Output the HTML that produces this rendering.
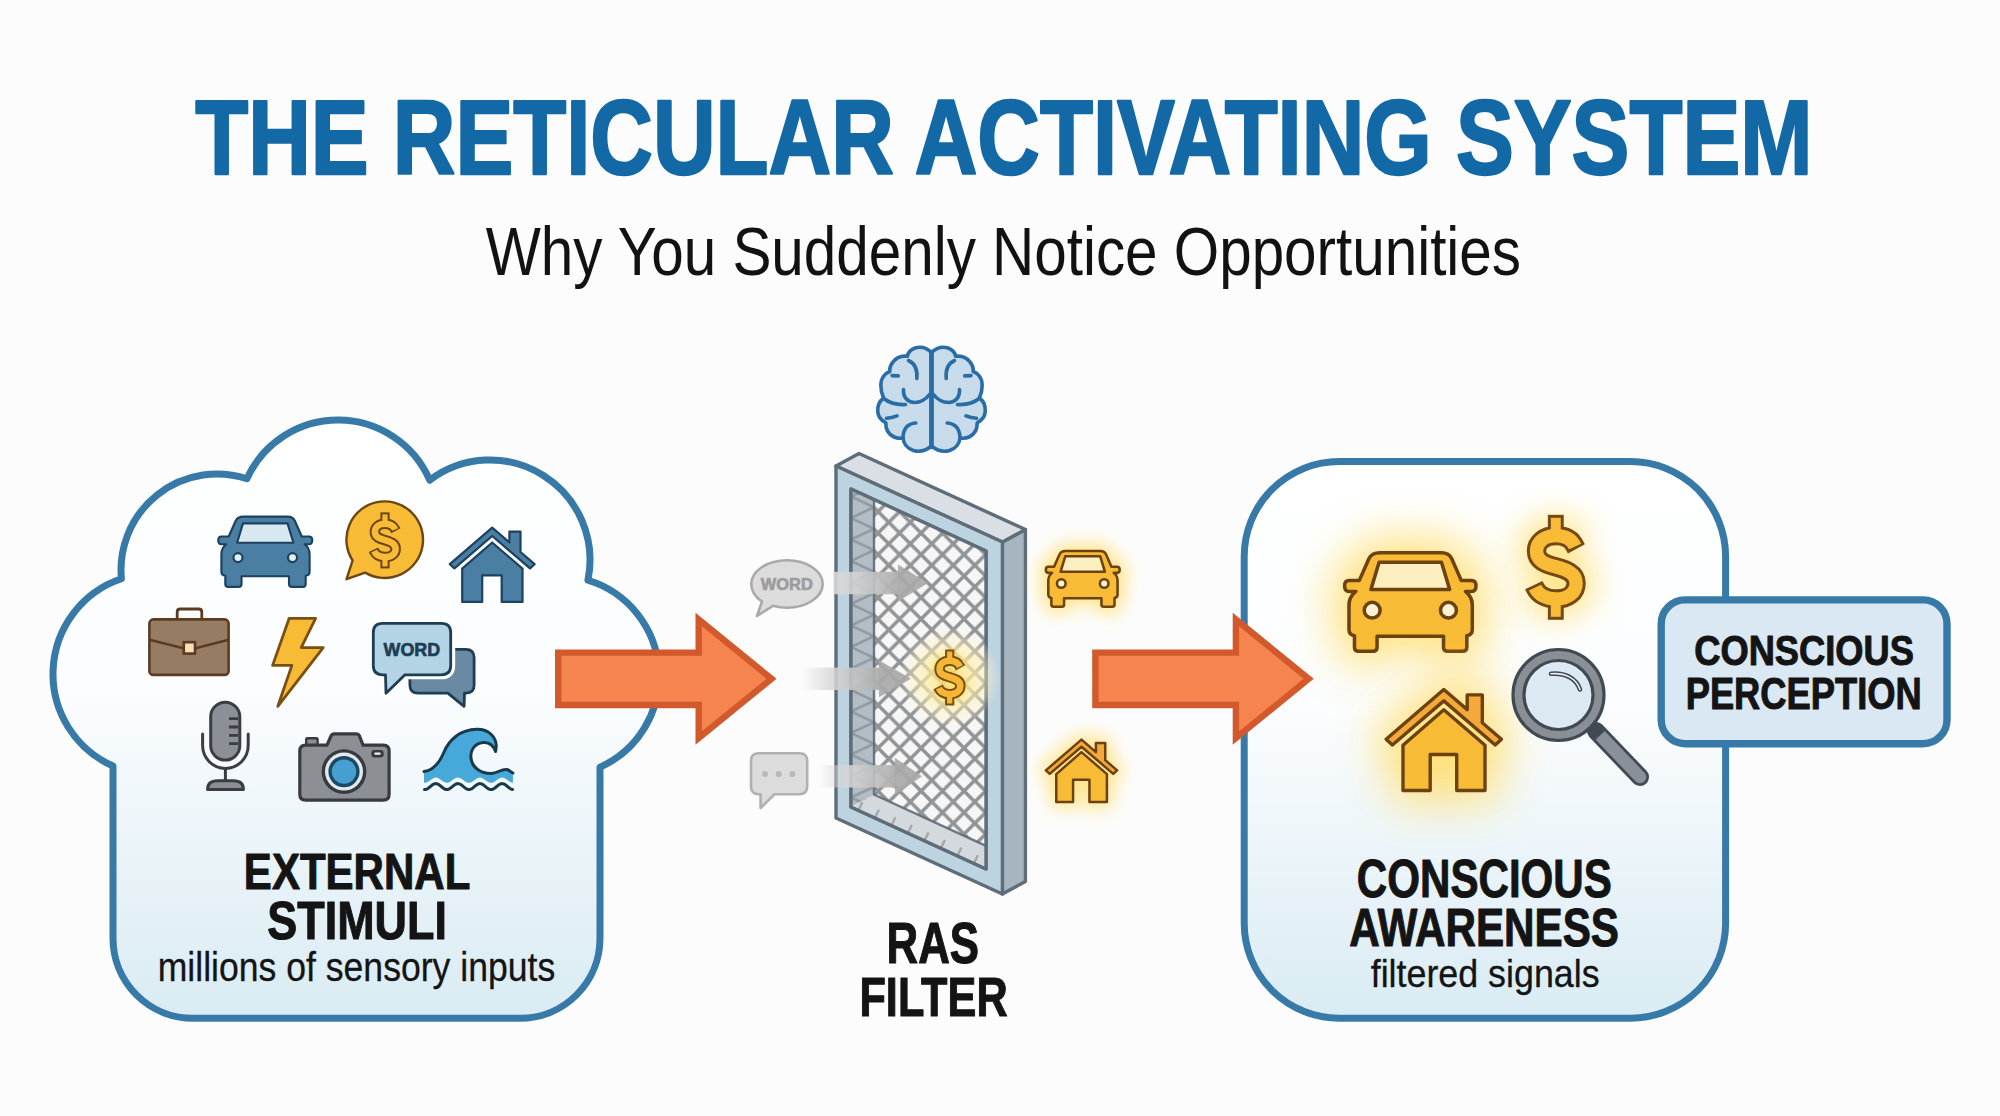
<!DOCTYPE html>
<html><head><meta charset="utf-8"><title>The Reticular Activating System</title>
<style>
html,body{margin:0;padding:0;background:#fcfcfc;}
body{width:2000px;height:1116px;overflow:hidden;font-family:"Liberation Sans",sans-serif;}
svg{display:block;}
</style></head><body>
<svg width="2000" height="1116" viewBox="0 0 2000 1116" font-family='Liberation Sans, sans-serif'>
<defs>
<linearGradient id="cloudGrad" x1="0" y1="420" x2="0" y2="1020" gradientUnits="userSpaceOnUse">
  <stop offset="0" stop-color="#ffffff"/>
  <stop offset="0.45" stop-color="#fbfdfe"/>
  <stop offset="1" stop-color="#d9ebf3"/>
</linearGradient>
<linearGradient id="boxGrad" x1="0" y1="460" x2="0" y2="1020" gradientUnits="userSpaceOnUse">
  <stop offset="0" stop-color="#ffffff"/>
  <stop offset="0.45" stop-color="#fbfdfe"/>
  <stop offset="1" stop-color="#d9ebf3"/>
</linearGradient>
<linearGradient id="ghostGrad" x1="0" y1="0" x2="1" y2="0">
  <stop offset="0" stop-color="#d6d6d6" stop-opacity="0"/>
  <stop offset="0.4" stop-color="#d6d6d6" stop-opacity="0.85"/>
  <stop offset="1" stop-color="#adadad" stop-opacity="0.95"/>
</linearGradient>
<linearGradient id="ghostGrad2" x1="0" y1="0" x2="1" y2="0">
  <stop offset="0" stop-color="#dadada" stop-opacity="0.88"/>
  <stop offset="0.35" stop-color="#d2d2d2" stop-opacity="0.88"/>
  <stop offset="1" stop-color="#adadad" stop-opacity="0.95"/>
</linearGradient>
<radialGradient id="dolGlow" cx="0.5" cy="0.5" r="0.5">
  <stop offset="0" stop-color="#ffe680" stop-opacity="0.9"/>
  <stop offset="0.5" stop-color="#fff0a8" stop-opacity="0.75"/>
  <stop offset="0.8" stop-color="#fff4c0" stop-opacity="0.4"/>
  <stop offset="1" stop-color="#fff6d0" stop-opacity="0"/>
</radialGradient>
<filter id="glow" x="-150%" y="-150%" width="400%" height="400%">
  <feGaussianBlur stdDeviation="11"/>
</filter>
<filter id="glowL" x="-150%" y="-150%" width="400%" height="400%">
  <feGaussianBlur stdDeviation="16"/>
</filter>
<filter id="glowS" x="-150%" y="-150%" width="400%" height="400%">
  <feGaussianBlur stdDeviation="8"/>
</filter>
<pattern id="mesh" patternUnits="userSpaceOnUse" width="21.5" height="21.5" x="7.3" y="6.3">
  <rect width="21.5" height="21.5" fill="#f6f6f7"/>
  <path d="M-2,-2 L23.5,23.5 M23.5,-2 L-2,23.5" stroke="#929395" stroke-width="3.5"/>
</pattern>
<pattern id="meshWall" patternUnits="userSpaceOnUse" width="23" height="21.5" x="851" y="2">
  <rect width="23" height="21.5" fill="#b2bdc5"/>
  <path d="M0,0 L23,10.75 L0,21.5" stroke="#929aa0" stroke-width="2.6" fill="none"/>
</pattern>
</defs>
<rect width="2000" height="1116" fill="#fcfcfc"/>
<path d="M 113 765.98 A 100.5 100.5 0 0 1 121.4 578.76 A 96 96 0 0 1 246.89 478.77 A 100 100 0 0 1 429.74 480.2 A 100 100 0 0 1 587.92 580.27 A 100 100 0 0 1 600 767.21 L 600 938.3 A 80 80 0 0 1 520 1018.3 L 193 1018.3 A 80 80 0 0 1 113 938.3 Z" fill="url(#cloudGrad)" stroke="#377aa8" stroke-width="7" stroke-linejoin="round"/>
<g transform="translate(265.25 551.75) scale(0.98 0.97) translate(-265.25 -551.75)" stroke="#1d4260" stroke-width="2.2" stroke-linejoin="round">
<path d="M243,515.5 L288,515.5 Q293.5,515.5 295.5,520 L302.5,536 L310,536 Q313.2,536 313.2,540 Q313.2,544 310,544 L305.5,544 Q310.5,548 310.5,554 L310.5,572 Q310.5,576 306.5,576.5 L306.5,585 Q306.5,588 303.5,588 L292.5,588 Q289.5,588 289.5,585 L289.5,577 L241,577 L241,585 Q241,588 238,588 L227.5,588 Q224.5,588 224.5,585 L224.5,576.5 Q220.5,576 220.5,572 L220.5,554 Q220.5,548 225.5,544 L220.5,544 Q217.3,544 217.3,540 Q217.3,536 220.5,536 L228,536 L235,520 Q237,515.5 243,515.5 Z" fill="#4a7ea3"/>
<path d="M242.5,522.5 L288,522.5 L294,542.5 L236.5,542.5 Z" fill="#d7e8f1"/>
<circle cx="237.4" cy="557.8" r="4.6" fill="#e4eef4"/>
<circle cx="293.1" cy="557.8" r="4.6" fill="#e4eef4"/>
</g>
<path d="M352.6,560.5 A38.3,38.3 0 1 1 365.2,572.6 L346.5,579.2 Z" fill="#f8bb35" stroke="#6e4612" stroke-width="2.4" stroke-linejoin="round"/>
<g transform="translate(385 540.4) scale(0.52)">
<rect x="-8.85" y="-53.85" width="17.69" height="19.85" fill="#6e4612"/>
<rect x="-8.85" y="34" width="17.69" height="19.85" fill="#6e4612"/>
<path d="M20.8,-18.6 L19.5,-21 C16,-29 8.5,-32 0,-32 C-11.5,-32 -19.5,-25.5 -19.5,-16.5 C-19.5,-6 -10,-3.2 0,-0.5 C10,2.2 20.5,5.5 20.5,16 C20.5,26 12,32 0,32 C-9.5,32 -17.5,28 -21,20.5 L-22.2,18" fill="none" stroke="#6e4612" stroke-width="20.19"/>
<rect x="-5" y="-50" width="10" height="16" fill="#f8bb35"/>
<rect x="-5" y="34" width="10" height="16" fill="#f8bb35"/>
<path d="M19.5,-21 C16,-29 8.5,-32 0,-32 C-11.5,-32 -19.5,-25.5 -19.5,-16.5 C-19.5,-6 -10,-3.2 0,-0.5 C10,2.2 20.5,5.5 20.5,16 C20.5,26 12,32 0,32 C-9.5,32 -17.5,28 -21,20.5" fill="none" stroke="#f8bb35" stroke-width="12.5"/>
</g>
<g transform="translate(492.35 564.75) scale(1) translate(-492.35 -564.75)" stroke="#1d4260" stroke-width="2.2" stroke-linejoin="round">
<path d="M492.2,527.6 L509.4,542.4 L509.4,531.6 L520.5,531.6 L520.5,552 L534.6,564.2 L530,568.4 L492.2,536 L454.4,568.4 L449.8,564.2 Z" fill="#4a7ea3"/>
<path d="M492.2,542.5 L522.5,568.6 L522.5,601.9 L501.7,601.9 L501.7,575.4 L482.2,575.4 L482.2,601.9 L462.2,601.9 L462.2,568.6 Z" fill="#4a7ea3"/>
</g>
<path d="M177.2,618.5 L177.2,612 Q177.2,609 180.2,609 L198.8,609 Q201.8,609 201.8,612 L201.8,618.5" fill="#fdfcfa" stroke="#5b3b22" stroke-width="2.8"/>
<rect x="149.4" y="619.4" width="79.2" height="55.5" rx="4" fill="#977c64" stroke="#5b3b22" stroke-width="2.6"/>
<path d="M149.4,639.8 L183.5,648.3 M195.6,648.3 L228.6,639.8" stroke="#5b3b22" stroke-width="2.6" fill="none"/>
<rect x="183.8" y="642.2" width="11.2" height="11.4" fill="#f6e0b8" stroke="#5b3b22" stroke-width="2.6"/>
<path d="M289.2,618.3 L315.6,618.3 L301.2,647.6 L323.2,647.6 L277.8,706.3 L291.9,665.4 L272.6,665.4 Z" fill="#f8bb35" stroke="#7a4f16" stroke-width="2.8" stroke-linejoin="round"/>
<path d="M418,649.3 L465.8,649.3 Q474.1,649.3 474.1,657.6 L474.1,685.1 Q474.1,693.1 466.1,693.1 L464.5,693.1 L464.1,706.3 L447.8,693.1 L418,693.1 Q409.9,693.1 409.9,685 L409.9,657.5 Q409.9,649.3 418,649.3 Z" fill="#6a89a3" stroke="#1e3e55" stroke-width="2.8" stroke-linejoin="round"/>
<path d="M382.5,623.3 L441.5,623.3 Q450.7,623.3 450.7,632.5 L450.7,665.6 Q450.7,674.8 441.5,674.8 L405,674.8 L386,693.2 L385.5,674.8 L382.5,674.8 Q373.3,674.8 373.3,665.6 L373.3,632.5 Q373.3,623.3 382.5,623.3 Z" fill="none" stroke="#ffffff" stroke-width="9" stroke-linejoin="round"/>
<path d="M382.5,623.3 L441.5,623.3 Q450.7,623.3 450.7,632.5 L450.7,665.6 Q450.7,674.8 441.5,674.8 L405,674.8 L386,693.2 L385.5,674.8 L382.5,674.8 Q373.3,674.8 373.3,665.6 L373.3,632.5 Q373.3,623.3 382.5,623.3 Z" fill="#b3d4e4" stroke="#1e3e55" stroke-width="2.8" stroke-linejoin="round"/>
<text x="411.8" y="656.2" font-size="19" font-weight="bold" fill="#1e3e55" text-anchor="middle" textLength="56.5" lengthAdjust="spacingAndGlyphs" stroke="#1e3e55" stroke-width="0.7" stroke-linejoin="round" >WORD</text>
<rect x="210.7" y="702.3" width="29.1" height="57.8" rx="14.55" fill="#8b9097" stroke="#3a3d42" stroke-width="3"/>
<path d="M229,718.6 L238,718.6 M229,727 L238,727 M229,735.4 L238,735.4 M229,743.7 L238,743.7" stroke="#3a3d42" stroke-width="2.8"/>
<path d="M202.6,733.9 L202.6,745.6 A22.8,22.8 0 0 0 248.2,745.6 L248.2,733.9" fill="none" stroke="#3a3d42" stroke-width="3" stroke-linecap="round"/>
<path d="M225.4,768.4 L225.4,780.5" stroke="#3a3d42" stroke-width="3"/>
<path d="M207.6,789.4 Q207.6,780.8 217.5,780.8 L233.5,780.8 Q243.4,780.8 243.4,789.4 Z" fill="#8b9097" stroke="#3a3d42" stroke-width="3" stroke-linejoin="round"/>
<rect x="306.2" y="738.2" width="11.4" height="7.5" rx="1.2" fill="#8c8f94" stroke="#373b40" stroke-width="2.4"/>
<path d="M299.8,751 Q299.8,745.1 305.7,745.1 L327,745.1 L331,736 Q332,733.8 334.5,733.8 L356,733.8 Q358.5,733.8 359.5,736 L363,745.1 L383.2,745.1 Q389.1,745.1 389.1,751 L389.1,794.3 Q389.1,800.2 383.2,800.2 L305.7,800.2 Q299.8,800.2 299.8,794.3 Z" fill="#8c8f94" stroke="#373b40" stroke-width="3.2" stroke-linejoin="round"/>
<circle cx="344" cy="771.6" r="22.4" fill="#373b40"/>
<circle cx="344" cy="771.6" r="19" fill="#e1eaf0"/>
<circle cx="344" cy="771.6" r="15.6" fill="#1c4862"/>
<circle cx="344" cy="771.6" r="12.2" fill="#479fd1"/>
<rect x="371.3" y="750" width="12.4" height="7.4" rx="3.2" fill="#373b40"/>
<rect x="374.3" y="752.6" width="6.4" height="2.2" rx="1" fill="#eef1f3"/>
<path d="M424,771.5 C433,770.5 439,764 444,752 C449,740 460,729.5 477,729.3 C489,729.2 496,737 496.3,746 L495.6,751.5 C493,744.5 488,742 483,742.5 C474,743.5 470,751 471,758 C472,768 481,773.5 491,773.5 C498,773.5 501,768.5 507,769.5 C509.5,770.5 511,772 512.9,773 L512.9,780 L512.9,782.79 L511.42,782.49 L509.94,781.79 L508.45,780.81 L506.97,779.72 L505.49,778.72 L504.01,777.97 L502.53,777.62 L501.05,777.72 L499.56,778.25 L498.08,779.12 L496.6,780.18 L495.12,781.25 L493.64,782.13 L492.16,782.67 L490.67,782.79 L489.19,782.45 L487.71,781.71 L486.23,780.72 L484.75,779.63 L483.27,778.64 L481.78,777.93 L480.3,777.61 L478.82,777.74 L477.34,778.31 L475.86,779.2 L474.38,780.27 L472.89,781.33 L471.41,782.19 L469.93,782.7 L468.45,782.77 L466.97,782.4 L465.49,781.64 L464,780.63 L462.52,779.54 L461.04,778.57 L459.56,777.88 L458.08,777.6 L456.6,777.78 L455.12,778.37 L453.63,779.29 L452.15,780.36 L450.67,781.41 L449.19,782.25 L447.71,782.72 L446.22,782.76 L444.74,782.35 L443.26,781.56 L441.78,780.54 L440.3,779.45 L438.82,778.5 L437.33,777.84 L435.85,777.6 L434.37,777.81 L432.89,778.44 L431.41,779.38 L429.93,780.46 L428.44,781.49 L426.96,782.3 L425.48,782.74 L424,782.74 Z" fill="#46a9d9"/>
<path d="M424,771.5 C433,770.5 439,764 444,752 C449,740 460,729.5 477,729.3 C489,729.2 496,737 496.3,746 L495.6,751.5 C493,744.5 488,742 483,742.5 C474,743.5 470,751 471,758 C472,768 481,773.5 491,773.5 C498,773.5 501,768.5 507,769.5 C509.5,770.5 511,772 512.9,773" fill="none" stroke="#1a3a4c" stroke-width="3" stroke-linejoin="round" stroke-linecap="round"/>
<path d="M424.5,789.59 L425.97,789.42 L427.43,788.77 L428.9,787.74 L430.37,786.52 L431.83,785.31 L433.3,784.33 L434.77,783.73 L436.23,783.62 L437.7,784.03 L439.17,784.87 L440.63,786.01 L442.1,787.26 L443.57,788.39 L445.03,789.21 L446.5,789.59 L447.97,789.45 L449.43,788.83 L450.9,787.82 L452.37,786.61 L453.83,785.39 L455.3,784.38 L456.77,783.75 L458.23,783.61 L459.7,783.98 L461.17,784.8 L462.63,785.93 L464.1,787.17 L465.57,788.32 L467.03,789.17 L468.5,789.58 L469.97,789.48 L471.43,788.88 L472.9,787.9 L474.37,786.69 L475.83,785.47 L477.3,784.44 L478.77,783.78 L480.23,783.61 L481.7,783.94 L483.17,784.74 L484.63,785.85 L486.1,787.09 L487.57,788.25 L489.03,789.12 L490.5,789.56 L491.97,789.5 L493.43,788.94 L494.9,787.98 L496.37,786.78 L497.83,785.55 L499.3,784.5 L500.77,783.81 L502.23,783.6 L503.7,783.91 L505.17,784.67 L506.63,785.77 L508.1,787 L509.57,788.17 L511.03,789.07 L512.5,789.55" fill="none" stroke="#1a3a4c" stroke-width="3" stroke-linecap="round" stroke-linejoin="round"/>
<rect x="1244.2" y="461.5" width="481.4" height="556.7" rx="95" fill="url(#boxGrad)" stroke="#377aa8" stroke-width="7"/>
<path d="M558.2,652.6 L698.7,652.6 L698.7,619.5 L771.5,678.8 L698.7,738 L698.7,705 L558.2,705 Z" fill="#f5844f" stroke="#d2592b" stroke-width="6.4" stroke-linejoin="miter"/>
<path d="M1095.4,652.6 L1235.9,652.6 L1235.9,619.5 L1308.7,678.8 L1235.9,738 L1235.9,705 L1095.4,705 Z" fill="#f5844f" stroke="#d2592b" stroke-width="6.4" stroke-linejoin="miter"/>
<g stroke="#2a6da6" stroke-width="3.6" stroke-linecap="round" stroke-linejoin="round">
<g transform="">
<path d="M931.5,352.5 C926,347 920,346.5 915,348 C911,349.5 908,352.5 907.3,356.3 C901,355.5 896,358 893,362 C890.5,365 889.5,368.5 889.8,371.5 C884,373.5 881,379 880.8,384.5 C880.7,390 882,394.5 883.6,398 C879,401.5 877.3,407 877.8,412 C878.3,417 881.5,420.5 885.8,422.8 C885.6,429 888.5,434.5 894,437 C897,438.4 900.5,438.5 903,437.8 C903.5,443.5 907.5,448.5 913.5,450.5 C919.5,452.3 926,450.5 931.5,446 Z" fill="#c7dbea"/>
<path d="M916.8,378.5 C917.5,371 916,364 908.5,360.5 M892,375.6 L898.3,375.9 M903.5,389.5 C903,397.5 908,402.5 914.5,402.5 C920.5,402.5 926,399 929.5,394.5 M883.8,398.5 C890,403.5 897,405 905.5,404.5 M886.5,418.3 C890.5,418 894,417 897,415.8 M915.8,423 C909,423.5 903.5,427.5 903,437.5" fill="none"/>
</g>
<g transform="translate(1863 0) scale(-1 1)">
<path d="M931.5,352.5 C926,347 920,346.5 915,348 C911,349.5 908,352.5 907.3,356.3 C901,355.5 896,358 893,362 C890.5,365 889.5,368.5 889.8,371.5 C884,373.5 881,379 880.8,384.5 C880.7,390 882,394.5 883.6,398 C879,401.5 877.3,407 877.8,412 C878.3,417 881.5,420.5 885.8,422.8 C885.6,429 888.5,434.5 894,437 C897,438.4 900.5,438.5 903,437.8 C903.5,443.5 907.5,448.5 913.5,450.5 C919.5,452.3 926,450.5 931.5,446 Z" fill="#c7dbea"/>
<path d="M916.8,378.5 C917.5,371 916,364 908.5,360.5 M892,375.6 L898.3,375.9 M903.5,389.5 C903,397.5 908,402.5 914.5,402.5 C920.5,402.5 926,399 929.5,394.5 M883.8,398.5 C890,403.5 897,405 905.5,404.5 M886.5,418.3 C890.5,418 894,417 897,415.8 M915.8,423 C909,423.5 903.5,427.5 903,437.5" fill="none"/>
</g>
<path d="M931.5,352 L931.5,447" fill="none" stroke-width="4.6"/>
</g>
<path d="M1002.4,542 L1025.4,529.5 L1025.4,881.5 L1002.4,894 Z" fill="#a6b5bf" stroke="#5e6d78" stroke-width="3.4" stroke-linejoin="round"/>
<path d="M836,466 L859,453.5 L1025.4,529.5 L1002.4,542 Z" fill="#d9dfe4" stroke="#5e6d78" stroke-width="3.4" stroke-linejoin="round"/>
<path d="M836,466 L1002.4,542 L1002.4,894 L836,818 Z M851,489 L986,551 L986,869 L851,807 Z" fill="#bed3e0" fill-rule="evenodd" stroke="#5e6d78" stroke-width="3.4" stroke-linejoin="round"/>
<clipPath id="hole"><path d="M851,489 L986,551 L986,869 L851,807 Z"/></clipPath>
<g clip-path="url(#hole)">
<rect x="851" y="470" width="140" height="410" fill="url(#mesh)"/>
<path d="M851,480 L874,470 L874,794.5 L851,807 Z" fill="url(#meshWall)"/>
<path d="M851,807 L874,794.5 L1009,856.5 L986,869 Z" fill="#d4d9dd"/>
<path d="M874,470 L874,794.5 L1009,856.5" fill="none" stroke="#5e6d78" stroke-width="2.4" opacity="0.9"/>
<path d="M862,803.05 l-3,6 M878.5,810.62 l-3,6 M895,818.2 l-3,6 M911.5,825.77 l-3,6 M928,833.34 l-3,6 M944.5,840.92 l-3,6 M961,848.49 l-3,6 M977.5,856.06 l-3,6" stroke="#a3a7ab" stroke-width="2.4" stroke-linecap="round"/>
</g>
<path d="M851,489 L986,551 L986,869 L851,807 Z" fill="none" stroke="#5e6d78" stroke-width="3.4" stroke-linejoin="round"/>
<circle cx="949.7" cy="677.5" r="50" fill="url(#dolGlow)" opacity="0.9"/>
<g transform="translate(949.7 677.5) scale(0.52)" filter="url(#glowS)" opacity="0.5">
<rect x="-8" y="-50" width="16" height="100" fill="#ffd54a"/>
<path d="M19.5,-21 C16,-29 8.5,-32 0,-32 C-11.5,-32 -19.5,-25.5 -19.5,-16.5 C-19.5,-6 -10,-3.2 0,-0.5 C10,2.2 20.5,5.5 20.5,16 C20.5,26 12,32 0,32 C-9.5,32 -17.5,28 -21,20.5" fill="none" stroke="#ffd54a" stroke-width="25.04"/>
</g>
<g transform="translate(949.7 677.5) scale(0.52)">
<rect x="-8.85" y="-53.85" width="17.69" height="19.85" fill="#7a4f16"/>
<rect x="-8.85" y="34" width="17.69" height="19.85" fill="#7a4f16"/>
<path d="M20.8,-18.6 L19.5,-21 C16,-29 8.5,-32 0,-32 C-11.5,-32 -19.5,-25.5 -19.5,-16.5 C-19.5,-6 -10,-3.2 0,-0.5 C10,2.2 20.5,5.5 20.5,16 C20.5,26 12,32 0,32 C-9.5,32 -17.5,28 -21,20.5 L-22.2,18" fill="none" stroke="#7a4f16" stroke-width="20.19"/>
<rect x="-5" y="-50" width="10" height="16" fill="#f5b733"/>
<rect x="-5" y="34" width="10" height="16" fill="#f5b733"/>
<path d="M19.5,-21 C16,-29 8.5,-32 0,-32 C-11.5,-32 -19.5,-25.5 -19.5,-16.5 C-19.5,-6 -10,-3.2 0,-0.5 C10,2.2 20.5,5.5 20.5,16 C20.5,26 12,32 0,32 C-9.5,32 -17.5,28 -21,20.5" fill="none" stroke="#f5b733" stroke-width="12.5"/>
</g>
<path d="M787,560.3 C806.7,560.3 822.7,570.9 822.7,584 C822.7,597.1 806.7,607.7 787,607.7 C782,607.7 777.3,607 773,605.8 L757,616 L762,601.5 C755.5,597.2 751.3,590.9 751.3,584 C751.3,570.9 767.3,560.3 787,560.3 Z" fill="#dcdcdc" stroke="#a9a9a9" stroke-width="2.6" stroke-linejoin="round"/>
<text x="786.8" y="590.4" font-size="17.3" font-weight="bold" fill="#9d9d9d" text-anchor="middle" textLength="52" lengthAdjust="spacingAndGlyphs" stroke="#9d9d9d" stroke-width="0.7" stroke-linejoin="round" >WORD</text>
<path d="M758.7,753.3 L799.5,753.3 Q807.2,753.3 807.2,761 L807.2,786.6 Q807.2,794.3 799.5,794.3 L774.5,794.3 L760.6,808 L760.6,794.3 L758.7,794.3 Q751,794.3 751,786.6 L751,761 Q751,753.3 758.7,753.3 Z" fill="#dcdcdc" stroke="#b1b1b1" stroke-width="2.6" stroke-linejoin="round"/>
<circle cx="765" cy="773.9" r="3" fill="#b9b9b9"/>
<circle cx="778.7" cy="773.9" r="3" fill="#b9b9b9"/>
<circle cx="792.4" cy="773.9" r="3" fill="#b9b9b9"/>
<rect x="833.5" y="571.8" width="65" height="22.4" fill="url(#ghostGrad2)"/>
<path d="M898,564.5 L928,583 L898,601.5 Z" fill="#a8a8a8" opacity="0.92"/>
<rect x="801" y="667.6" width="78.5" height="22.4" fill="url(#ghostGrad)"/>
<path d="M879,660.3 L911,678.8 L879,697.3 Z" fill="#a8a8a8" opacity="0.92"/>
<rect x="818" y="765.1" width="77.5" height="22.4" fill="url(#ghostGrad)"/>
<path d="M895,757.8 L922,776.3 L895,794.8 Z" fill="#a8a8a8" opacity="0.92"/>
<g transform="translate(1082.75 578.85) scale(0.79) translate(-265.25 -551.75)" filter="url(#glow)" opacity="0.8">
<path d="M243,515.5 L288,515.5 Q293.5,515.5 295.5,520 L302.5,536 L310,536 Q313.2,536 313.2,540 Q313.2,544 310,544 L305.5,544 Q310.5,548 310.5,554 L310.5,572 Q310.5,576 306.5,576.5 L306.5,585 Q306.5,588 303.5,588 L292.5,588 Q289.5,588 289.5,585 L289.5,577 L241,577 L241,585 Q241,588 238,588 L227.5,588 Q224.5,588 224.5,585 L224.5,576.5 Q220.5,576 220.5,572 L220.5,554 Q220.5,548 225.5,544 L220.5,544 Q217.3,544 217.3,540 Q217.3,536 220.5,536 L228,536 L235,520 Q237,515.5 243,515.5 Z" fill="#ffdf70" stroke="#ffdf70" stroke-width="15.25" stroke-linejoin="round"/>
</g>
<g transform="translate(1082.75 578.85) scale(0.77 0.77) translate(-265.25 -551.75)" stroke="#6b4210" stroke-width="3.3" stroke-linejoin="round">
<path d="M243,515.5 L288,515.5 Q293.5,515.5 295.5,520 L302.5,536 L310,536 Q313.2,536 313.2,540 Q313.2,544 310,544 L305.5,544 Q310.5,548 310.5,554 L310.5,572 Q310.5,576 306.5,576.5 L306.5,585 Q306.5,588 303.5,588 L292.5,588 Q289.5,588 289.5,585 L289.5,577 L241,577 L241,585 Q241,588 238,588 L227.5,588 Q224.5,588 224.5,585 L224.5,576.5 Q220.5,576 220.5,572 L220.5,554 Q220.5,548 225.5,544 L220.5,544 Q217.3,544 217.3,540 Q217.3,536 220.5,536 L228,536 L235,520 Q237,515.5 243,515.5 Z" fill="#f8bb35"/>
<path d="M242.5,522.5 L288,522.5 L294,542.5 L236.5,542.5 Z" fill="#fdf0c0"/>
<circle cx="237.4" cy="557.8" r="5.6" fill="#fdf3d2"/>
<circle cx="293.1" cy="557.8" r="5.6" fill="#fdf3d2"/>
</g>
<g transform="translate(1081.6 770.85) scale(0.84) translate(-492.35 -564.75)" filter="url(#glow)" opacity="0.8">
<path d="M492.2,527.6 L509.4,542.4 L509.4,531.6 L520.5,531.6 L520.5,552 L534.6,564.2 L530,568.4 L492.2,536 L454.4,568.4 L449.8,564.2 Z" fill="#ffdf70" stroke="#ffdf70" stroke-width="14.29" stroke-linejoin="round"/>
<path d="M492.2,542.5 L522.5,568.6 L522.5,601.9 L501.7,601.9 L501.7,575.4 L482.2,575.4 L482.2,601.9 L462.2,601.9 L462.2,568.6 Z" fill="#ffdf70" stroke="#ffdf70" stroke-width="14.29" stroke-linejoin="round"/>
</g>
<g transform="translate(1081.6 770.85) scale(0.84) translate(-492.35 -564.75)" stroke="#6b4210" stroke-width="2.98" stroke-linejoin="round">
<path d="M492.2,527.6 L509.4,542.4 L509.4,531.6 L520.5,531.6 L520.5,552 L534.6,564.2 L530,568.4 L492.2,536 L454.4,568.4 L449.8,564.2 Z" fill="#f6a93b"/>
<path d="M492.2,542.5 L522.5,568.6 L522.5,601.9 L501.7,601.9 L501.7,575.4 L482.2,575.4 L482.2,601.9 L462.2,601.9 L462.2,568.6 Z" fill="#f8bb35"/>
</g>
<g transform="translate(1410.3 602) scale(1.4) translate(-265.25 -551.75)" filter="url(#glowL)" opacity="0.9">
<path d="M243,515.5 L288,515.5 Q293.5,515.5 295.5,520 L302.5,536 L310,536 Q313.2,536 313.2,540 Q313.2,544 310,544 L305.5,544 Q310.5,548 310.5,554 L310.5,572 Q310.5,576 306.5,576.5 L306.5,585 Q306.5,588 303.5,588 L292.5,588 Q289.5,588 289.5,585 L289.5,577 L241,577 L241,585 Q241,588 238,588 L227.5,588 Q224.5,588 224.5,585 L224.5,576.5 Q220.5,576 220.5,572 L220.5,554 Q220.5,548 225.5,544 L220.5,544 Q217.3,544 217.3,540 Q217.3,536 220.5,536 L228,536 L235,520 Q237,515.5 243,515.5 Z" fill="#ffdf70" stroke="#ffdf70" stroke-width="18.57" stroke-linejoin="round"/>
</g>
<g transform="translate(1410.3 602) scale(1.37 1.36) translate(-265.25 -551.75)" stroke="#6b4210" stroke-width="2.57" stroke-linejoin="round">
<path d="M243,515.5 L288,515.5 Q293.5,515.5 295.5,520 L302.5,536 L310,536 Q313.2,536 313.2,540 Q313.2,544 310,544 L305.5,544 Q310.5,548 310.5,554 L310.5,572 Q310.5,576 306.5,576.5 L306.5,585 Q306.5,588 303.5,588 L292.5,588 Q289.5,588 289.5,585 L289.5,577 L241,577 L241,585 Q241,588 238,588 L227.5,588 Q224.5,588 224.5,585 L224.5,576.5 Q220.5,576 220.5,572 L220.5,554 Q220.5,548 225.5,544 L220.5,544 Q217.3,544 217.3,540 Q217.3,536 220.5,536 L228,536 L235,520 Q237,515.5 243,515.5 Z" fill="#f8bb35"/>
<path d="M242.5,522.5 L288,522.5 L294,542.5 L236.5,542.5 Z" fill="#fdefbf"/>
<circle cx="237.4" cy="557.8" r="5.8" fill="#fdf3d2"/>
<circle cx="293.1" cy="557.8" r="5.8" fill="#fdf3d2"/>
</g>
<g transform="translate(1555.8 567.3) scale(0.99)" filter="url(#glowL)" opacity="0.8">
<rect x="-8" y="-50" width="16" height="100" fill="#ffdf70"/>
<path d="M19.5,-21 C16,-29 8.5,-32 0,-32 C-11.5,-32 -19.5,-25.5 -19.5,-16.5 C-19.5,-6 -10,-3.2 0,-0.5 C10,2.2 20.5,5.5 20.5,16 C20.5,26 12,32 0,32 C-9.5,32 -17.5,28 -21,20.5" fill="none" stroke="#ffdf70" stroke-width="37.62"/>
</g>
<g transform="translate(1555.8 567.3) scale(0.99)">
<rect x="-8.02" y="-53.02" width="16.03" height="19.02" fill="#744915"/>
<rect x="-8.02" y="34" width="16.03" height="19.02" fill="#744915"/>
<path d="M20.8,-18.6 L19.5,-21 C16,-29 8.5,-32 0,-32 C-11.5,-32 -19.5,-25.5 -19.5,-16.5 C-19.5,-6 -10,-3.2 0,-0.5 C10,2.2 20.5,5.5 20.5,16 C20.5,26 12,32 0,32 C-9.5,32 -17.5,28 -21,20.5 L-22.2,18" fill="none" stroke="#744915" stroke-width="19.53"/>
<rect x="-5" y="-50" width="10" height="16" fill="#f8bb35"/>
<rect x="-5" y="34" width="10" height="16" fill="#f8bb35"/>
<path d="M19.5,-21 C16,-29 8.5,-32 0,-32 C-11.5,-32 -19.5,-25.5 -19.5,-16.5 C-19.5,-6 -10,-3.2 0,-0.5 C10,2.2 20.5,5.5 20.5,16 C20.5,26 12,32 0,32 C-9.5,32 -17.5,28 -21,20.5" fill="none" stroke="#f8bb35" stroke-width="13.5"/>
</g>
<g transform="translate(1444 740) scale(1.36) translate(-492.35 -564.75)" filter="url(#glowL)" opacity="0.9">
<path d="M492.2,527.6 L509.4,542.4 L509.4,531.6 L520.5,531.6 L520.5,552 L534.6,564.2 L530,568.4 L492.2,536 L454.4,568.4 L449.8,564.2 Z" fill="#ffdf70" stroke="#ffdf70" stroke-width="19.05" stroke-linejoin="round"/>
<path d="M492.2,542.5 L522.5,568.6 L522.5,601.9 L501.7,601.9 L501.7,575.4 L482.2,575.4 L482.2,601.9 L462.2,601.9 L462.2,568.6 Z" fill="#ffdf70" stroke="#ffdf70" stroke-width="19.05" stroke-linejoin="round"/>
</g>
<g transform="translate(1444 740) scale(1.36) translate(-492.35 -564.75)" stroke="#6b4210" stroke-width="2.49" stroke-linejoin="round">
<path d="M492.2,527.6 L509.4,542.4 L509.4,531.6 L520.5,531.6 L520.5,552 L534.6,564.2 L530,568.4 L492.2,536 L454.4,568.4 L449.8,564.2 Z" fill="#f6a93b"/>
<path d="M492.2,542.5 L522.5,568.6 L522.5,601.9 L501.7,601.9 L501.7,575.4 L482.2,575.4 L482.2,601.9 L462.2,601.9 L462.2,568.6 Z" fill="#f8bb35"/>
</g>
<path d="M1596,731 L1640,777" stroke="#414a53" stroke-width="18" stroke-linecap="round"/>
<path d="M1596,731 L1640,777" stroke="#8a9097" stroke-width="12.5" stroke-linecap="round"/>
<path d="M1589,724 L1600,735.5" stroke="#414a53" stroke-width="14"/>
<circle cx="1558.5" cy="695" r="45.5" fill="#8a8f96" stroke="#414a53" stroke-width="3.2"/>
<circle cx="1558.5" cy="695" r="34.5" fill="#dce9f2" stroke="#414a53" stroke-width="3.2"/>
<path d="M1551,673.8 C1565,672.5 1576,678 1580,689.5" fill="none" stroke="#414a53" stroke-width="4.6" stroke-linecap="round"/>
<path d="M1551,673.8 C1565,672.5 1576,678 1580,689.5" fill="none" stroke="#e9eff3" stroke-width="1.6" stroke-linecap="round"/>
<rect x="1661.2" y="599.9" width="285.8" height="143.8" rx="24" fill="#d9e8f2" stroke="#377aa8" stroke-width="7.4"/>
<text x="195.2" y="174.49" font-size="106.49" font-weight="bold" fill="#1369a6" text-anchor="start" textLength="1617.32" lengthAdjust="spacingAndGlyphs" stroke="#1369a6" stroke-width="2.4" stroke-linejoin="round" >THE RETICULAR ACTIVATING SYSTEM</text>
<text x="485.75" y="274.98" font-size="67.97" font-weight="normal" fill="#121212" text-anchor="start" textLength="1035.26" lengthAdjust="spacingAndGlyphs" >Why You Suddenly Notice Opportunities</text>
<text x="243.86" y="888.93" font-size="50.37" font-weight="bold" fill="#141414" text-anchor="start" textLength="226.46" lengthAdjust="spacingAndGlyphs" stroke="#141414" stroke-width="1" stroke-linejoin="round" >EXTERNAL</text>
<text x="267.36" y="939.49" font-size="53.04" font-weight="bold" fill="#141414" text-anchor="start" textLength="179.5" lengthAdjust="spacingAndGlyphs" stroke="#141414" stroke-width="1" stroke-linejoin="round" >STIMULI</text>
<text x="157.68" y="980.57" font-size="40.89" font-weight="normal" fill="#141414" text-anchor="start" textLength="397.54" lengthAdjust="spacingAndGlyphs" stroke="#141414" stroke-width="0.3" stroke-linejoin="round" >millions of sensory inputs</text>
<text x="886.58" y="963.45" font-size="57.39" font-weight="bold" fill="#141414" text-anchor="start" textLength="92.5" lengthAdjust="spacingAndGlyphs" stroke="#141414" stroke-width="1.1" stroke-linejoin="round" >RAS</text>
<text x="859.45" y="1015.5" font-size="56.13" font-weight="bold" fill="#141414" text-anchor="start" textLength="148.2" lengthAdjust="spacingAndGlyphs" stroke="#141414" stroke-width="1.1" stroke-linejoin="round" >FILTER</text>
<text x="1356.87" y="896.59" font-size="53.92" font-weight="bold" fill="#141414" text-anchor="start" textLength="254.95" lengthAdjust="spacingAndGlyphs" stroke="#141414" stroke-width="1" stroke-linejoin="round" >CONSCIOUS</text>
<text x="1349.29" y="946.28" font-size="52.81" font-weight="bold" fill="#141414" text-anchor="start" textLength="269.71" lengthAdjust="spacingAndGlyphs" stroke="#141414" stroke-width="1" stroke-linejoin="round" >AWARENESS</text>
<text x="1370.7" y="986.71" font-size="38.77" font-weight="normal" fill="#141414" text-anchor="start" textLength="228.9" lengthAdjust="spacingAndGlyphs" stroke="#141414" stroke-width="0.3" stroke-linejoin="round" >filtered signals</text>
<text x="1694.27" y="664.87" font-size="43.01" font-weight="bold" fill="#141414" text-anchor="start" textLength="219.66" lengthAdjust="spacingAndGlyphs" stroke="#141414" stroke-width="1" stroke-linejoin="round" >CONSCIOUS</text>
<text x="1685.67" y="708.53" font-size="45.09" font-weight="bold" fill="#141414" text-anchor="start" textLength="236.06" lengthAdjust="spacingAndGlyphs" stroke="#141414" stroke-width="1" stroke-linejoin="round" >PERCEPTION</text>
</svg>
</body></html>
